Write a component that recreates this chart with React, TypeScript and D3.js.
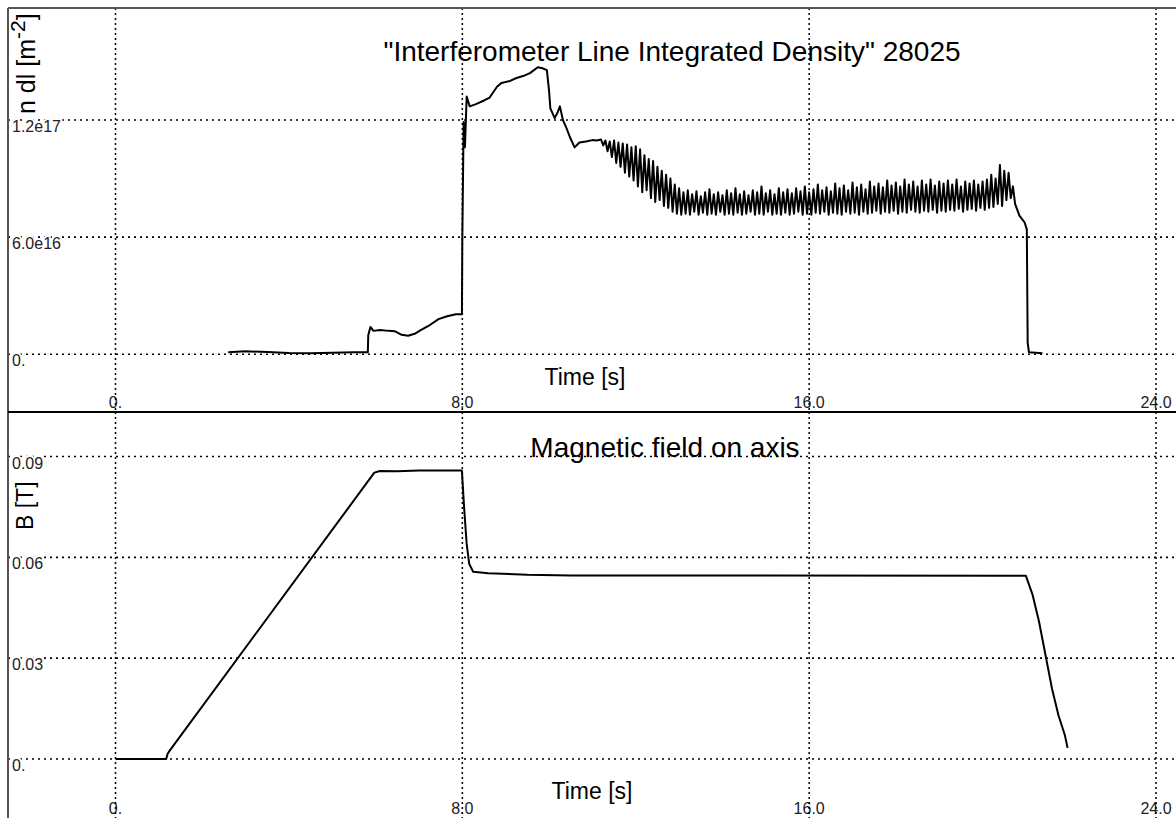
import React from "react";
import * as d3 from "d3";

// ---------- data ----------
// Shared time ticks
const timeTicks = [0, 8, 16, 24];
const topTimeTickLabels = ["0.", "8.0", "16.0", "24.0"];
const botTimeTickLabels = ["0.", "8.0", "16.0", "24.0"];

// Density (units of 1e16 m^-2)
const densityTicks = [0, 6, 12];
const densityTickLabels = ["0.", "6.0e16", "1.2e17"];

// Pre-oscillation part of the density trace
const densityPreTimes = [2.6, 3.0, 3.5, 4.0, 4.5, 5.0, 5.5, 5.82, 5.83, 5.88, 5.95, 6.1, 6.3, 6.45, 6.6, 6.75, 6.9, 7.05, 7.25, 7.45, 7.65, 7.85, 7.99, 8.0, 8.03, 8.06, 8.1, 8.17, 8.3, 8.5, 8.63, 8.8, 8.9, 9.1, 9.25, 9.4, 9.56, 9.74, 9.85, 9.95, 10.0, 10.03, 10.13, 10.2, 10.25, 10.32, 10.4, 10.48, 10.59, 10.7, 10.85, 11.0, 11.1];
const densityPreValues = [0.1, 0.15, 0.12, 0.07, 0.06, 0.08, 0.1, 0.1, 0.97, 1.4, 1.2, 1.25, 1.2, 1.18, 1.0, 0.95, 1.05, 1.25, 1.5, 1.8, 1.95, 2.05, 2.05, 6.0, 11.9, 10.6, 13.2, 12.7, 12.8, 13.0, 13.15, 13.7, 13.9, 14.0, 14.15, 14.25, 14.4, 14.7, 14.65, 14.55, 13.5, 12.6, 12.1, 12.4, 12.7, 12.0, 11.6, 11.13, 10.6, 10.85, 10.9, 10.97, 10.95];

// Oscillating part, sampled every 0.05 s from 11.2 s
const densityNoiseStart = 11.2;
const densityNoiseStep = 0.05;
const densityNoiseValues = [
  11.0, 10.7, 10.95, 10.4, 10.9, 10.1, 10.95, 9.8, 10.85, 9.6,
  10.8, 9.3, 10.75, 9.1, 10.6, 8.9, 10.65, 8.6, 10.5, 8.3,
  10.2, 8.4, 10.0, 8.0, 9.9, 7.8, 9.6, 7.9, 9.4, 7.6,
  9.2, 7.5, 9.0, 7.3, 8.7, 7.2, 8.5, 7.15, 8.3, 7.2,
  8.4, 7.15, 8.2, 7.3, 8.35, 7.15, 8.1, 7.25, 8.3, 7.15,
  8.45, 7.2, 8.2, 7.15, 8.3, 7.3, 8.15, 7.15, 8.4, 7.2,
  8.25, 7.15, 8.5, 7.25, 8.2, 7.15, 8.35, 7.2, 8.15, 7.3,
  8.4, 7.15, 8.3, 7.2, 8.6, 7.15, 8.25, 7.3, 8.4, 7.15,
  8.2, 7.2, 8.5, 7.15, 8.3, 7.25, 8.45, 7.15, 8.25, 7.2,
  8.5, 7.3, 8.35, 7.15, 8.6, 7.2, 8.3, 7.15, 8.45, 7.25,
  8.7, 7.2, 8.4, 7.3, 8.55, 7.15, 8.35, 7.25, 8.75, 7.2,
  8.5, 7.15, 8.65, 7.3, 8.4, 7.2, 8.8, 7.25, 8.55, 7.15,
  8.7, 7.3, 8.45, 7.2, 8.85, 7.25, 8.6, 7.35, 8.75, 7.2,
  8.55, 7.3, 8.9, 7.25, 8.65, 7.35, 8.8, 7.2, 8.6, 7.3,
  8.95, 7.25, 8.7, 7.4, 8.85, 7.3, 8.6, 7.25, 8.9, 7.35,
  8.7, 7.3, 8.95, 7.4, 8.65, 7.25, 8.85, 7.35, 8.75, 7.3,
  8.9, 7.4, 8.7, 7.35, 8.95, 7.45, 8.6, 7.3, 8.85, 7.4,
  8.75, 7.45, 8.9, 7.35, 8.7, 7.5, 8.85, 7.4, 8.95, 7.5,
  9.2, 7.55, 9.0, 7.7, 9.7, 7.6, 9.4, 7.9, 9.3, 8.0,
  8.6,
];

// Post-oscillation part
const densityPostTimes = [20.75, 20.85, 20.97, 21.02, 21.04, 21.07, 21.38];
const densityPostValues = [7.7, 7.1, 6.75, 6.4, 0.6, 0.1, 0.05];

// Magnetic field on axis (T)
const fieldTicks = [0, 0.03, 0.06, 0.09];
const fieldTickLabels = ["0.", "0.03", "0.06", "0.09"];
const fieldTimes = [0, 1.17, 1.2, 1.25, 5.97, 6.1, 6.5, 7.0, 7.99, 8.04, 8.1, 8.16, 8.25, 8.6, 9.5, 10.5, 15.0, 21.0, 21.15, 21.3, 21.45, 21.6, 21.75, 21.9, 21.96];
const fieldValues = [0.0, 0.0, 0.0015, 0.0025, 0.0852, 0.0857, 0.0856, 0.0858, 0.0858, 0.075, 0.064, 0.058, 0.0557, 0.0553, 0.0548, 0.0546, 0.0546, 0.0545, 0.049, 0.041, 0.031, 0.021, 0.013, 0.007, 0.0033];

// ---------- layout ----------
const W = 1176;
const H = 818;
const FONT = "'Liberation Sans', Arial, Helvetica, sans-serif";

export default function App() {
  const x = d3.scaleLinear().domain([0, 24]).range([115.5, 1156]);
  const yTop = d3.scaleLinear().domain([0, 12]).range([354.3, 120]);
  const yBot = d3.scaleLinear().domain([0, 0.09]).range([759, 456.5]);

  const densityPts: [number, number][] = [];
  densityPreTimes.forEach((t, i) => densityPts.push([t, densityPreValues[i]]));
  densityNoiseValues.forEach((v, i) => densityPts.push([densityNoiseStart + i * densityNoiseStep, v]));
  densityPostTimes.forEach((t, i) => densityPts.push([t, densityPostValues[i]]));

  const fieldPts: [number, number][] = fieldTimes.map((t, i) => [t, fieldValues[i]]);

  const lineTop = d3.line<[number, number]>().x((d) => x(d[0])).y((d) => yTop(d[1]));
  const lineBot = d3.line<[number, number]>().x((d) => x(d[0])).y((d) => yBot(d[1]));

  const panelTop = { y0: 8, y1: 412 };
  const panelBot = { y0: 412, y1: 818 };

  const halo = { stroke: "#fff", strokeWidth: 4, paintOrder: "stroke" as const };

  return (
    <svg width={W} height={H} style={{ position: "absolute", left: 0, top: 0, display: "block", background: "#fff" }} fontFamily={FONT}>
      <rect x={0} y={0} width={W} height={H} fill="#fff" />

      {/* horizontal grid */}
      {densityTicks.map((v) => (
        <line key={"ht" + v} x1={8} x2={W} y1={yTop(v)} y2={yTop(v)} stroke="#000" strokeWidth={1.6} strokeDasharray="2 4" />
      ))}
      {fieldTicks.map((v) => (
        <line key={"hb" + v} x1={8} x2={W} y1={yBot(v)} y2={yBot(v)} stroke="#000" strokeWidth={1.6} strokeDasharray="2 4" />
      ))}

      {/* y tick labels */}
      {densityTicks.map((v, i) => (
        <text key={"lt" + v} x={12} y={yTop(v) + 12} fontSize={16} fill="#222" {...halo}>
          {densityTickLabels[i]}
        </text>
      ))}
      {fieldTicks.map((v, i) => (
        <text key={"lb" + v} x={12} y={yBot(v) + 12} fontSize={16} fill="#222" {...halo}>
          {fieldTickLabels[i]}
        </text>
      ))}

      {/* titles */}
      <text x={672} y={61} fontSize={28} textAnchor="middle" fill="#000" {...halo}>
        "Interferometer Line Integrated Density" 28025
      </text>

      {/* x tick labels */}
      {timeTicks.map((t, i) => (
        <text key={"xt" + t} x={x(t)} y={408} fontSize={16} textAnchor="middle" fill="#222">
          {topTimeTickLabels[i]}
        </text>
      ))}
      {timeTicks.map((t, i) => (
        <text key={"xb" + t} x={x(t)} y={814} fontSize={16} textAnchor="middle" fill="#222">
          {botTimeTickLabels[i]}
        </text>
      ))}

      {/* vertical grid */}
      {timeTicks.map((t) => (
        <line key={"vt" + t} x1={x(t)} x2={x(t)} y1={panelTop.y0} y2={panelTop.y1} stroke="#000" strokeWidth={1.5} strokeDasharray="2 3" />
      ))}
      {timeTicks.map((t) => (
        <line key={"vb" + t} x1={x(t)} x2={x(t)} y1={panelBot.y0} y2={panelBot.y1} stroke="#000" strokeWidth={1.5} strokeDasharray="2 3" />
      ))}

      <text x={665} y={457} fontSize={28} textAnchor="middle" fill="#000">
        Magnetic field on axis
      </text>

      {/* axis titles */}
      <text x={585} y={385} fontSize={23} textAnchor="middle" fill="#000">Time [s]</text>
      <text x={592} y={799} fontSize={23} textAnchor="middle" fill="#000">Time [s]</text>

      <text transform="translate(35,114) rotate(-90)" fontSize={25} fill="#000">
        n dl [m<tspan fontSize={21} dy={-10}>-2</tspan><tspan dy={10}>]</tspan>
      </text>
      <text transform="translate(33,530) rotate(-90)" fontSize={23} fill="#000">B [T]</text>

      {/* data */}
      <path d={lineTop(densityPts) || ""} fill="none" stroke="#000" strokeWidth={2} strokeLinejoin="round" />
      <path d={lineBot(fieldPts) || ""} fill="none" stroke="#000" strokeWidth={2} strokeLinejoin="round" />

      {/* frame */}
      <line x1={8} x2={W} y1={8} y2={8} stroke="#555" strokeWidth={2} />
      <line x1={8} x2={8} y1={8} y2={H} stroke="#555" strokeWidth={2} />
      <line x1={8} x2={W} y1={412} y2={412} stroke="#000" strokeWidth={2} />
    </svg>
  );
}
